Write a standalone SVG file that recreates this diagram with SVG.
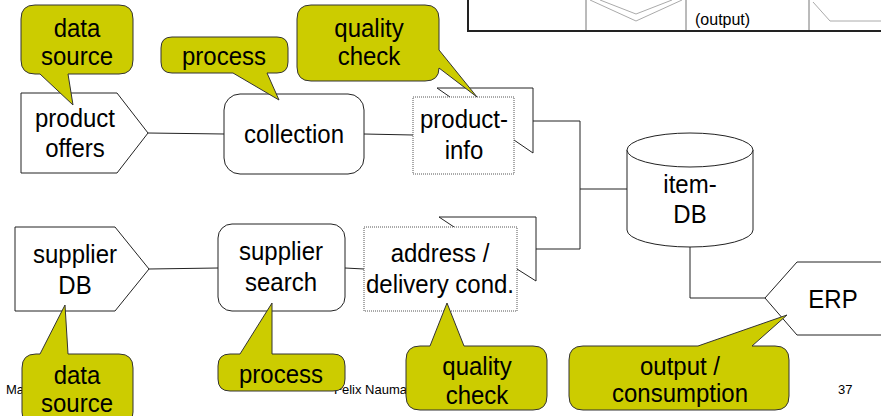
<svg xmlns="http://www.w3.org/2000/svg" width="881" height="416" viewBox="0 0 881 416">
<style>
text{font-family:"Liberation Sans",Arial,sans-serif;fill:#000}
.t{font-size:24px;text-anchor:middle;transform-box:fill-box;transform-origin:50% 80%;transform:scale(1,1.08)}
.f{font-size:13px}
.node{fill:#fff;stroke:#222;stroke-width:1}
.doc{fill:#fff;stroke:#555;stroke-width:1;stroke-dasharray:1,1}
.back{fill:none;stroke:#222;stroke-width:1}
.call{fill:#CCCC00;stroke:#333;stroke-width:1}
.conn{fill:none;stroke:#222;stroke-width:1}
.tbl{stroke:#777;stroke-width:1;fill:none}
.tblb{stroke:#222;stroke-width:2;fill:none}
.gl{stroke:#aaa;stroke-width:1;fill:none}
</style>

<!-- legend table fragment -->
<g id="legend">
<path class="tblb" d="M468,0 V31 H881"/>
<path class="tbl" d="M586,0 V30 M686,0 V30 M809,0 V30"/>
<path class="gl" d="M590,0 L636,21 L682,0 M600,0 L636,14 L672,0"/>
<path class="gl" d="M813,2 L830,21 H881"/>
<text x="695" y="25" style="font-size:16px">(output)</text>
</g>

<!-- footer -->
<g id="footer">
<text class="f" x="6" y="394">Ma</text>
<text class="f" x="334" y="394">Felix Nauma</text>
<text class="f" x="838" y="394">37</text>
</g>

<!-- connectors -->
<g id="connectors">
<path class="conn" d="M148,133 L224,134"/>
<path class="conn" d="M364,134 L413,135"/>
<path class="conn" d="M533,121 H580 V249 H535"/>
<path class="conn" d="M580,189 H627"/>
<path class="conn" d="M690,247 V298 H765"/>
<path class="conn" d="M149,269 L218,268"/>
<path class="conn" d="M345,268 L364,269"/>
</g>

<g id="product-offers">
<polygon class="node" points="21,93 117,93 148,133 117,173 21,173"/>
<text class="t" x="75" y="127">product</text>
<text class="t" x="75" y="157">offers</text>
</g>

<g id="collection">
<rect class="node" x="224" y="94" width="140" height="80" rx="16"/>
<text class="t" x="294" y="143">collection</text>
</g>

<g id="product-info">
<polygon fill="#fff" points="437,88 533,88 533,153 514,140 514,97 450,97"/>
<path class="back" d="M450,97 L437,88 H533 V153 L514,140"/>
<rect class="doc" x="413" y="97" width="101" height="77"/>
<text class="t" x="464" y="128">product-</text>
<text class="t" x="464" y="159">info</text>
</g>

<g id="item-db">
<path class="node" d="M627,150 V230 A63,17 0 0 0 753,230 V150"/>
<ellipse class="node" cx="690" cy="150" rx="63" ry="17"/>
<text class="t" x="690" y="193">item-</text>
<text class="t" x="690" y="223">DB</text>
</g>

<g id="erp">
<polygon class="node" points="765,298 797,262 890,262 890,335 797,335"/>
<text class="t" x="833" y="308">ERP</text>
</g>

<g id="supplier-db">
<polygon class="node" points="15,227 115,227 149,269 115,311 15,311"/>
<text class="t" x="75" y="263">supplier</text>
<text class="t" x="75" y="294">DB</text>
</g>

<g id="supplier-search">
<rect class="node" x="218" y="224" width="127" height="87" rx="14"/>
<text class="t" x="281" y="260">supplier</text>
<text class="t" x="281" y="291">search</text>
</g>

<g id="address">
<polygon fill="#fff" points="439,217 536,217 536,281 517,269 517,227 454,227"/>
<path class="back" d="M454,227 L439,217 H536 V281 L517,269"/>
<rect class="doc" x="364" y="227" width="153" height="84"/>
<text class="t" x="440" y="262">address /</text>
<text class="t" x="440" y="293">delivery cond.</text>
</g>

<!-- callouts -->
<g id="callout-data-source-top">
<path class="call" d="M35,5 H119 Q133,5 133,19 V60 Q133,74 119,74 H68 L73,105 L40,74 H35 Q21,74 21,60 V19 Q21,5 35,5 Z"/>
<text class="t" x="77" y="37">data</text>
<text class="t" x="77" y="65">source</text>
</g>

<g id="callout-process-top">
<path class="call" d="M172,37 H277 Q288,37 288,48 V62 Q288,73 277,73 H267 L279,100 L233,73 H172 Q161,73 161,62 V48 Q161,37 172,37 Z"/>
<text class="t" x="224" y="65">process</text>
</g>

<g id="callout-quality-top">
<path class="call" d="M311,5 H425 Q439,5 439,19 V50 L477,97 L439,68 Q439,81 425,81 H311 Q297,81 297,67 V19 Q297,5 311,5 Z"/>
<text class="t" x="369" y="37">quality</text>
<text class="t" x="369" y="65">check</text>
</g>

<g id="callout-data-source-bottom">
<path class="call" d="M36,354 H40 L65,305 L68,354 H119 Q133,354 133,368 V412 Q133,426 119,426 H36 Q22,426 22,412 V368 Q22,354 36,354 Z"/>
<text class="t" x="77" y="384">data</text>
<text class="t" x="77" y="412">source</text>
</g>

<g id="callout-process-bottom">
<path class="call" d="M230,354 H240 L272,303 V354 H333 Q345,354 345,366 V379 Q345,391 333,391 H230 Q218,391 218,379 V366 Q218,354 230,354 Z"/>
<text class="t" x="281" y="383">process</text>
</g>

<g id="callout-quality-bottom">
<path class="call" d="M420,346 H430 L447,303 L464,346 H533 Q547,346 547,360 V396 Q547,410 533,410 H420 Q406,410 406,396 V360 Q406,346 420,346 Z"/>
<text class="t" x="477" y="375">quality</text>
<text class="t" x="477" y="404">check</text>
</g>

<g id="callout-output">
<path class="call" d="M583,346 H698 L787,315 L752,346 H775 Q789,346 789,360 V396 Q789,410 775,410 H583 Q569,410 569,396 V360 Q569,346 583,346 Z"/>
<text class="t" x="680" y="375">output /</text>
<text class="t" x="680" y="402">consumption</text>
</g>
</svg>
